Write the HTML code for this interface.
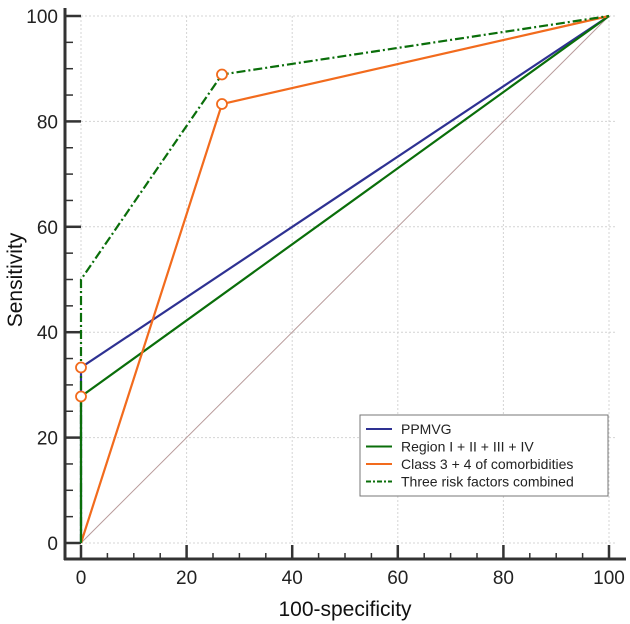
<!DOCTYPE html>
<html><head><meta charset="utf-8"><style>
body{margin:0;background:#fff;}
svg{display:block;font-family:"Liberation Sans",Arial,sans-serif;}
</style></head><body>
<svg id="c" width="630" height="624"></svg>
<script>
const xTicks=[0,20,40,60,80,100];
const yTicks=[0,20,40,60,80,100];
const ppmvgX=[0,0,100], ppmvgY=[0,33.3,100];
const regionX=[0,0,100], regionY=[0,27.8,100];
const classX=[0,26.7,100], classY=[0,83.3,100];
const threeX=[0,0,26.7,100], threeY=[0,50,88.9,100];
const markX=[0,0,26.7,26.7], markY=[33.3,27.8,83.3,88.9];
const legendLabels=["PPMVG","Region I + II + III + IV","Class 3 + 4 of comorbidities","Three risk factors combined"];

const NS="http://www.w3.org/2000/svg";
const svg=document.getElementById('c');
const sx=v=>81+v*5.28, sy=v=>543-v*5.27;
function mk(t,a,p){const e=document.createElementNS(NS,t);for(const k in a)e.setAttribute(k,a[k]);(p||svg).appendChild(e);return e;}
// grid
xTicks.forEach(v=>{const l=mk('line',{x1:sx(v),x2:sx(v),y1:sy(100),y2:sy(0),stroke:'#d4d4d4','stroke-dasharray':'2,2'});

});
yTicks.forEach(v=>{const l=mk('line',{x1:sx(0),x2:sx(100)+8,y1:sy(v),y2:sy(v),stroke:'#d4d4d4','stroke-dasharray':'2,2'});

});
// axes
const ya=mk('line',{x1:65,x2:65,y1:8,y2:560,stroke:'#333','stroke-width':3});


const xa=mk('line',{x1:64,x2:626,y1:559,y2:559,stroke:'#333','stroke-width':3});


for(let v=0;v<=100;v+=5){const maj=v%20===0;
 const a=mk('line',{x1:65,x2:maj?81:73,y1:sy(v),y2:sy(v),stroke:'#333','stroke-width':maj?2.5:1.5});
 
 
 const b=mk('line',{x1:sx(v),x2:sx(v),y1:559,y2:maj?545:553,stroke:'#333','stroke-width':maj?2.5:1.5});
 
 }
yTicks.forEach(v=>{const t=mk('text',{x:58,y:sy(v)+7,'text-anchor':'end','font-size':19,fill:'#222'});t.textContent=v;

});
xTicks.forEach(v=>{const t=mk('text',{x:sx(v),y:584,'text-anchor':'middle','font-size':19,fill:'#222'});t.textContent=v;

});
const xt=mk('text',{x:345,y:616,'text-anchor':'middle','font-size':21,fill:'#111'});xt.textContent='100-specificity';


const yt=mk('text',{x:0,y:0,'text-anchor':'middle','font-size':21,fill:'#111',transform:'translate(22,280) rotate(-90)'});yt.textContent='Sensitivity';


// diagonal
const dg=mk('line',{x1:sx(0),y1:sy(0),x2:sx(100),y2:sy(100),stroke:'#b89a9a','stroke-width':1});


function series(xs,ys,col,dash,name){const pts=xs.map((x,i)=>sx(x)+','+sy(ys[i])).join(' ');
 const p=mk('polyline',{points:pts,fill:'none',stroke:col,'stroke-width':2.2,'stroke-dasharray':dash||''});
 
 }
series(ppmvgX,ppmvgY,'#2e3192','', 'ppmvg-line');
series(regionX,regionY,'#0a6e0a','', 'region-line');
series(classX,classY,'#f26b1d','', 'class-line');
series(threeX,threeY,'#0a6e0a','9,3,2,3','three-factors-line');
markX.forEach((x,i)=>{const c=mk('circle',{cx:sx(x),cy:sy(markY[i]),r:5,fill:'#fff',stroke:'#f26b1d','stroke-width':1.8});

});
// legend
const lg=mk('g',{});


mk('rect',{x:360,y:415,width:248,height:81,fill:'#fff',stroke:'#777','stroke-width':1},lg);
const lc=['#2e3192','#0a6e0a','#f26b1d','#0a6e0a'], ld=['','','','5,2,2,2'];
legendLabels.forEach((s,i)=>{const y=429+i*17.5;
 mk('line',{x1:366,x2:392,y1:y,y2:y,stroke:lc[i],'stroke-width':2,'stroke-dasharray':ld[i]},lg);
 const t=mk('text',{x:401,y:y+5,'font-size':14,fill:'#222'},lg);t.textContent=s;
 
 });
</script>
</body></html>
